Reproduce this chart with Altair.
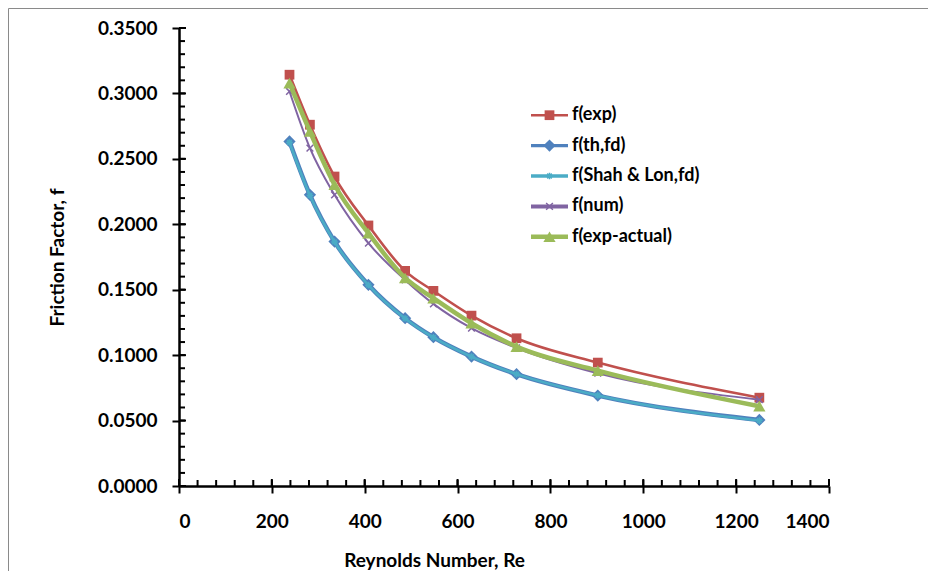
import altair as alt
import pandas as pd

# ---- data ----
re_vals = [238, 282, 335, 408, 487, 548, 630, 727, 902, 1250]
f_exp = [0.3143, 0.2761, 0.2365, 0.1991, 0.1644, 0.1491, 0.1302, 0.1129, 0.0943, 0.0675]
f_th = [0.2633, 0.2225, 0.1868, 0.1537, 0.1282, 0.1137, 0.0989, 0.0854, 0.0691, 0.0505]
f_shah = [0.2625, 0.2220, 0.1865, 0.1535, 0.1280, 0.1135, 0.0988, 0.0855, 0.0692, 0.0500]
f_num = [0.3015, 0.2582, 0.2225, 0.1856, 0.1575, 0.1392, 0.1206, 0.1055, 0.0862, 0.0660]
f_act = [0.3079, 0.2709, 0.2302, 0.1932, 0.1590, 0.1435, 0.1244, 0.1065, 0.0882, 0.0610]

series_names = ["f(exp)", "f(th,fd)", "f(Shah & Lon,fd)", "f(num)", "f(exp-actual)"]
series_vals = [f_exp, f_th, f_shah, f_num, f_act]
colors = ["#C0504D", "#4F81BD", "#4BACC6", "#8064A2", "#9BBB59"]
widths = [2.6, 4.5, 2.6, 2.0, 4.5]

x_major = [0, 200, 400, 600, 800, 1000, 1200, 1400]
x_minor = list(range(0, 1401, 40))
y_major = [0.0, 0.05, 0.10, 0.15, 0.20, 0.25, 0.30, 0.35]
y_minor = [round(i * 0.01, 2) for i in range(36)]

FONT = "Lato"
FS = 19
W, H = 650, 458

rows = []
for name, vals in zip(series_names, series_vals):
    for r, f in zip(re_vals, vals):
        rows.append({"series": name, "Re": r, "f": f})
df = pd.DataFrame(rows)

xs = alt.Scale(domain=[0, 1400], nice=False, zero=False)
ys = alt.Scale(domain=[0, 0.35], nice=False)

cross_path = "M-1,-1L1,1M-1,1L1,-1"
star_path = "M-1,0L1,0M0,-1L0,1M-0.7,-0.7L0.7,0.7M-0.7,0.7L0.7,-0.7"

marker = {
    "f(exp)": dict(shape="square", size=95, filled=True),
    "f(th,fd)": dict(shape="diamond", size=150, filled=True),
    "f(Shah & Lon,fd)": dict(shape=star_path, size=45, filled=False, strokeWidth=1.5),
    "f(num)": dict(shape=cross_path, size=45, filled=False, strokeWidth=1.5),
    "f(exp-actual)": dict(shape="triangle-up", size=150, filled=True),
}

base = alt.Chart(df)
layers = []

# frame around the whole chart: only its left and top edges are inside the picture
one = pd.DataFrame({"k": [0]})
layers.append(alt.Chart(one).mark_rule(color="#8a8a8a", strokeWidth=1).encode(
    x=alt.value(-170.5), y=alt.value(-19.5), y2=alt.value(600)))
layers.append(alt.Chart(one).mark_rule(color="#8a8a8a", strokeWidth=1).encode(
    x=alt.value(-170.5), x2=alt.value(800), y=alt.value(-19.5)))

axis_common = dict(
    labelFont=FONT, labelFontWeight="bold", labelFontSize=FS, labelColor="black",
    titleFont=FONT, titleFontWeight="bold", titleFontSize=FS, titleColor="black",
    domainColor="black", domainWidth=2.5, tickColor="black", tickWidth=2,
    tickSize=7, grid=False,
)

for i, name in enumerate(series_names):
    sub = base.transform_filter(alt.datum.series == name)
    line = sub.mark_line(
        color=colors[i], strokeWidth=widths[i], interpolate="monotone"
    ).encode(
        x=alt.X("Re:Q", scale=xs,
                axis=alt.Axis(values=x_major, format="d", title="Reynolds Number, Re",
                              labelPadding=19, titlePadding=20, titleX=255,
                              **axis_common)),
        y=alt.Y("f:Q", scale=ys,
                axis=alt.Axis(values=y_major, format=".4f", title="Friction Factor, f",
                              labelPadding=15, titlePadding=30, **axis_common)),
    )
    m = marker[name]
    if m["filled"]:
        pts = sub.mark_point(shape=m["shape"], size=m["size"], filled=True,
                             color=colors[i], opacity=1)
    else:
        pts = sub.mark_point(shape=m["shape"], size=m["size"], filled=False,
                             color=colors[i], strokeWidth=m["strokeWidth"], opacity=1)
    pts = pts.encode(x=alt.X("Re:Q", scale=xs), y=alt.Y("f:Q", scale=ys))
    layers += [line, pts]

# inward tick halves
xmin_df = pd.DataFrame({"v": x_minor})
xmaj_df = pd.DataFrame({"v": x_major})
ymin_df = pd.DataFrame({"v": y_minor})
ymaj_df = pd.DataFrame({"v": y_major})
layers.append(alt.Chart(xmin_df).mark_rule(color="black", strokeWidth=2).encode(
    x=alt.X("v:Q", scale=xs), y=alt.value(H), y2=alt.value(H - 6)))
layers.append(alt.Chart(xmaj_df).mark_rule(color="black", strokeWidth=2).encode(
    x=alt.X("v:Q", scale=xs), y=alt.value(H), y2=alt.value(H - 7)))
layers.append(alt.Chart(ymin_df).mark_rule(color="black", strokeWidth=2).encode(
    y=alt.Y("v:Q", scale=ys), x=alt.value(0), x2=alt.value(6)))
layers.append(alt.Chart(ymaj_df).mark_rule(color="black", strokeWidth=2).encode(
    y=alt.Y("v:Q", scale=ys), x=alt.value(0), x2=alt.value(7)))

main = alt.layer(*layers)

# custom legend
leg = pd.DataFrame({"series": series_names, "order": list(range(len(series_names)))})
ly = alt.Y("order:O", scale=alt.Scale(domain=list(range(5)), range=[72, 224], padding=0), axis=None)
lcol = alt.Color("series:N", scale=alt.Scale(domain=series_names, range=colors), legend=None)
lbase = alt.Chart(leg)
leg_layers = [
    lbase.mark_rule().encode(
        x=alt.value(352), x2=alt.value(389), y=ly, color=lcol,
        strokeWidth=alt.StrokeWidth("series:N", scale=alt.Scale(domain=series_names, range=widths), legend=None)),
]
for i, name in enumerate(series_names):
    m = marker[name]
    sub = lbase.transform_filter(alt.datum.series == name)
    if m["filled"]:
        p = sub.mark_point(shape=m["shape"], size=m["size"], filled=True, color=colors[i], opacity=1)
    else:
        p = sub.mark_point(shape=m["shape"], size=m["size"], filled=False, color=colors[i],
                           strokeWidth=m["strokeWidth"], opacity=1)
    leg_layers.append(p.encode(x=alt.value(370.5), y=ly))
leg_layers.append(lbase.mark_text(align="left", baseline="middle", font=FONT, fontWeight="bold",
                                  fontSize=18, color="black").encode(
    x=alt.value(393), y=ly, text="series:N"))
legend_chart = alt.layer(*leg_layers)

chart = alt.layer(main, legend_chart).resolve_scale(y="independent").properties(
    width=W, height=H,
    padding={"left": 171, "top": 20, "right": 99, "bottom": 85},
    autosize="none",
    background="white",
    view=alt.ViewBackground(stroke="transparent", strokeWidth=0),
).configure_view(stroke="transparent", strokeWidth=0)

chart.save("out.html", embed_options={"renderer": "svg", "actions": False})
